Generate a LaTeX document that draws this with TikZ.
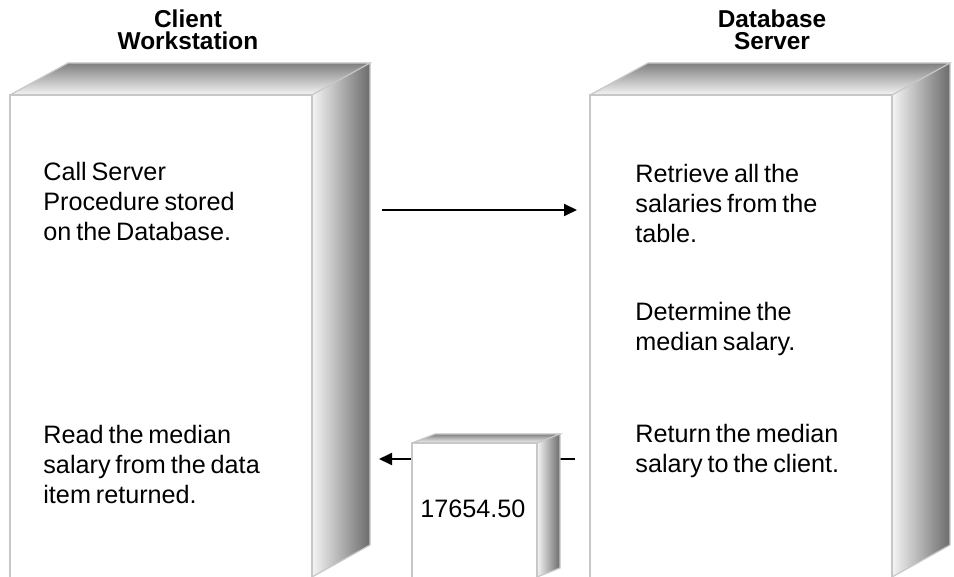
\documentclass[tikz,border=0pt]{standalone}
\usepackage{fontspec}
\setmainfont{Liberation Sans}[WordSpace=0.7]
\usetikzlibrary{arrows.meta}

\begin{document}
\begin{tikzpicture}[x=0.5pt,y=-0.5pt,
    edge/.style={draw=black!22,line width=0.6pt},
    topface/.style={top color=black!50,bottom color=black!4},
    sideface/.style={left color=black!4,right color=black!58},
    step text/.style={anchor=base west,align=left,inner sep=0pt,font=\fontsize{12.6}{15}\selectfont},
    title/.style={anchor=base,align=center,inner sep=0pt,font=\bfseries\fontsize{12.2}{11}\selectfont},
    flow/.style={line width=0.9pt,-{Triangle[length=6.5pt,width=6pt]}}]
  \useasboundingbox (0,0) rectangle (954,577);

  % titles (base = last line)
  \node[title] (clienttitle) at (188,50) {Client\\Workstation};
  \node[title] (servertitle) at (772,50) {Database\\Server};

  % client workstation box
  \shade[topface] (10,95) -- (68,63) -- (370,63) -- (312,95) -- cycle;
  \shade[sideface] (312,95) -- (370,63) -- (370,545) -- (312,577) -- cycle;
  \draw[edge] (10,577) -- (10,95) -- (312,95) -- (312,577);
  \draw[edge] (10,95) -- (68,63) -- (370,63) -- (312,95);
  \draw[edge] (370,63) -- (370,545) -- (312,577);

  % database server box
  \shade[topface] (590,95) -- (648,63) -- (950,63) -- (892,95) -- cycle;
  \shade[sideface] (892,95) -- (950,63) -- (950,545) -- (892,577) -- cycle;
  \draw[edge] (590,577) -- (590,95) -- (892,95) -- (892,577);
  \draw[edge] (590,95) -- (648,63) -- (950,63) -- (892,95);
  \draw[edge] (950,63) -- (950,545) -- (892,577);

  % texts (base = last line)
  \node[step text] (call) at (43,241) {Call Server\\Procedure stored\\on the Database.};
  \node[step text] (retrieve) at (635,243) {Retrieve all the\\salaries from the\\table.};
  \node[step text] (determine) at (635,351) {Determine the\\median salary.};
  \node[step text] (send) at (635,473) {Return the median\\salary to the client.};
  \node[step text] (read) at (43,503) {Read the median\\salary from the data\\item returned.};

  % request
  \coordinate (reqstart) at (382,210);
  \coordinate (reqend) at (577,210);
  \draw[flow] (reqstart) -- (reqend);

  % reply, passes behind the data item
  \coordinate (repstart) at (575,459);
  \coordinate (repend) at (379,459);
  \draw[flow] (repstart) -- (repend);

  % data item
  \shade[topface] (412,443) -- (435,434) -- (560,434) -- (537,443) -- cycle;
  \shade[sideface] (537,443) -- (560,434) -- (560,568) -- (537,577) -- cycle;
  \fill[white] (412,443) rectangle (537,577);
  \draw[edge] (412,577) -- (412,443) -- (537,443) -- (537,577);
  \draw[edge] (412,443) -- (435,434) -- (560,434) -- (537,443);
  \draw[edge] (560,434) -- (560,568) -- (537,577);
  \node[step text] (median) at (420,517) {17654.50};
\end{tikzpicture}
\end{document}
